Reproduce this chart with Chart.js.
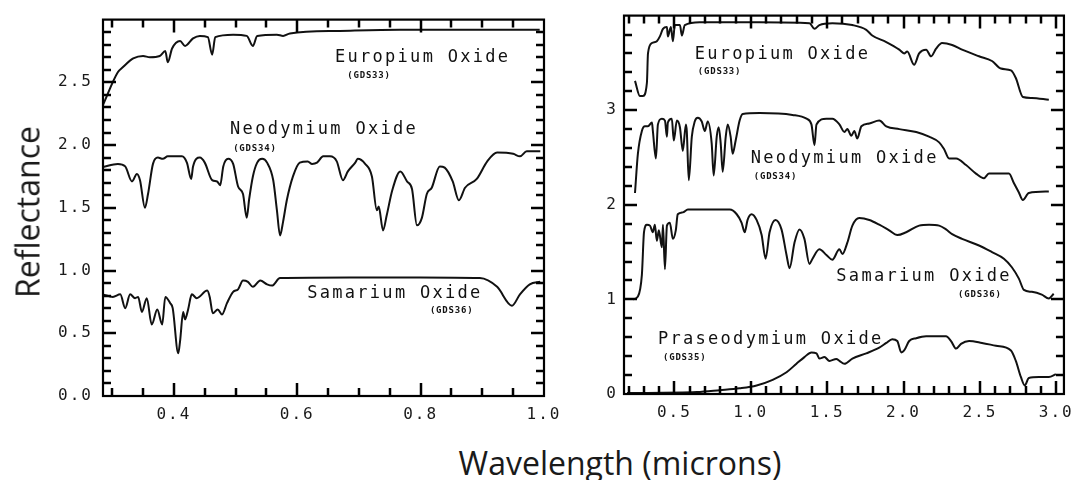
<!DOCTYPE html>
<html>
<head>
<meta charset="utf-8">
<script src="https://cdn.jsdelivr.net/npm/chart.js@4.4.1/dist/chart.umd.min.js"></script>
<style>
  html,body{margin:0;padding:0;background:#fff;}
  #page{position:relative;width:1080px;height:480px;overflow:hidden;background:#fff;}
  .cv{position:absolute;top:0;}
  .title{position:absolute;font-family:'Open Sans',sans-serif;font-size:32px;color:#1a1a1a;white-space:nowrap;}
</style>
</head>
<body>
<div id="page">
  <canvas id="left" class="cv" style="left:0px" width="570" height="440"></canvas>
  <canvas id="right" class="cv" style="left:580px" width="500" height="440"></canvas>
  <div class="title" style="left:27px;top:212px;transform:translate(-50%,-50%) rotate(-90deg);">Reflectance</div>
  <div class="title" style="left:620px;top:462px;transform:translate(-50%,-50%);">Wavelength (microns)</div>
</div>
<script>
// ---------------- DATA: left panel (0.3–1.0 µm) ----------------
const euLeftW = [0.285,0.309,0.317,0.334,0.350,0.361,0.377,0.386,0.390,0.397,0.410,0.418,0.431,0.442,0.455,0.462,0.467,0.496,0.518,0.528,0.535,0.567,0.577,0.588,0.669,0.766,0.993];
const euLeftR = [2.32,2.58,2.62,2.69,2.71,2.70,2.71,2.75,2.66,2.77,2.83,2.79,2.85,2.87,2.86,2.72,2.86,2.88,2.87,2.79,2.87,2.88,2.87,2.89,2.91,2.92,2.92];

const ndLeftW = [0.285,0.309,0.321,0.332,0.340,0.345,0.353,0.358,0.366,0.374,0.382,0.390,0.413,0.421,0.428,0.431,0.442,0.450,0.462,0.470,0.475,0.480,0.488,0.496,0.504,0.512,0.518,0.522,0.528,0.535,0.543,0.551,0.561,0.567,0.572,0.577,0.583,0.593,0.604,0.617,0.624,0.632,0.642,0.653,0.664,0.674,0.682,0.694,0.698,0.710,0.721,0.729,0.732,0.739,0.745,0.754,0.767,0.778,0.786,0.794,0.802,0.810,0.818,0.831,0.839,0.852,0.862,0.872,0.891,0.908,0.924,0.950,0.961,0.972,0.994];
const ndLeftR = [1.825,1.85,1.83,1.71,1.77,1.72,1.50,1.61,1.85,1.90,1.89,1.91,1.91,1.86,1.73,1.83,1.90,1.86,1.72,1.71,1.68,1.83,1.89,1.85,1.67,1.61,1.42,1.57,1.75,1.86,1.89,1.86,1.72,1.48,1.28,1.39,1.56,1.75,1.86,1.87,1.85,1.86,1.91,1.91,1.87,1.72,1.79,1.86,1.89,1.85,1.75,1.48,1.51,1.32,1.44,1.64,1.79,1.71,1.65,1.36,1.42,1.61,1.66,1.83,1.82,1.71,1.56,1.66,1.73,1.87,1.94,1.93,1.91,1.95,1.95];

const smLeftW = [0.285,0.301,0.313,0.321,0.329,0.337,0.342,0.348,0.356,0.364,0.373,0.381,0.386,0.394,0.398,0.407,0.410,0.415,0.418,0.423,0.429,0.437,0.454,0.458,0.463,0.471,0.478,0.486,0.496,0.504,0.512,0.520,0.528,0.540,0.551,0.559,0.572,0.685,0.799,0.896,0.924,0.948,0.961,0.977,0.994];
const smLeftR = [0.81,0.79,0.81,0.70,0.81,0.78,0.79,0.67,0.78,0.57,0.69,0.57,0.79,0.74,0.70,0.34,0.44,0.67,0.61,0.69,0.81,0.78,0.84,0.79,0.66,0.69,0.65,0.74,0.83,0.85,0.92,0.91,0.87,0.92,0.89,0.88,0.94,0.945,0.945,0.94,0.87,0.72,0.81,0.89,0.91];

// ---------------- DATA: right panel (0.2–3.0 µm) ----------------
const euRightW = [0.242,0.274,0.294,0.320,0.327,0.353,0.385,0.405,0.425,0.451,0.457,0.477,0.490,0.503,0.536,0.549,0.568,0.666,1.058,1.384,1.417,1.449,1.534,1.665,1.756,1.795,1.887,1.972,2.004,2.024,2.069,2.102,2.148,2.180,2.213,2.252,2.318,2.383,2.494,2.579,2.637,2.703,2.735,2.781,2.840,2.951];
const euRightR = [3.31,3.15,3.15,3.29,3.60,3.71,3.73,3.78,3.86,3.88,3.78,3.88,3.73,3.90,3.90,3.79,3.90,3.93,3.93,3.92,3.86,3.90,3.92,3.90,3.85,3.79,3.72,3.64,3.60,3.62,3.48,3.60,3.64,3.57,3.65,3.71,3.69,3.64,3.57,3.52,3.44,3.42,3.34,3.14,3.13,3.11];

const ndRightW = [0.242,0.261,0.287,0.307,0.327,0.353,0.359,0.379,0.392,0.418,0.438,0.451,0.457,0.483,0.496,0.516,0.536,0.555,0.575,0.581,0.594,0.614,0.633,0.653,0.679,0.699,0.718,0.744,0.757,0.777,0.790,0.803,0.816,0.836,0.849,0.868,0.881,0.901,0.927,0.947,1.058,1.273,1.365,1.397,1.417,1.430,1.495,1.534,1.580,1.613,1.632,1.658,1.678,1.697,1.724,1.776,1.841,1.887,1.972,2.083,2.167,2.233,2.265,2.298,2.344,2.409,2.474,2.526,2.559,2.690,2.722,2.755,2.781,2.820,2.951];
const ndRightR = [2.125,2.54,2.78,2.83,2.83,2.87,2.78,2.49,2.85,2.91,2.89,2.72,2.87,2.91,2.68,2.89,2.82,2.57,2.85,2.78,2.26,2.72,2.88,2.92,2.88,2.78,2.88,2.65,2.31,2.72,2.82,2.65,2.35,2.72,2.85,2.72,2.54,2.68,2.89,2.96,2.97,2.95,2.91,2.85,2.63,2.85,2.91,2.91,2.85,2.77,2.80,2.73,2.78,2.70,2.83,2.86,2.89,2.83,2.80,2.77,2.72,2.66,2.59,2.49,2.49,2.42,2.33,2.28,2.33,2.33,2.23,2.13,2.05,2.125,2.14];

const smRightW = [0.229,0.261,0.287,0.301,0.320,0.340,0.359,0.372,0.385,0.398,0.418,0.425,0.438,0.451,0.470,0.490,0.509,0.522,0.555,0.588,0.751,0.862,0.908,0.940,0.960,0.979,1.005,1.038,1.071,1.097,1.123,1.162,1.201,1.234,1.254,1.286,1.319,1.351,1.384,1.404,1.449,1.495,1.534,1.580,1.600,1.632,1.665,1.710,1.776,1.841,1.906,1.959,2.017,2.102,2.167,2.233,2.278,2.318,2.383,2.494,2.579,2.657,2.709,2.755,2.788,2.840,2.905,2.951,2.983];
const smRightR = [1.00,1.03,1.26,1.71,1.79,1.78,1.71,1.79,1.62,1.73,1.55,1.79,1.32,1.78,1.81,1.64,1.73,1.90,1.92,1.95,1.95,1.95,1.90,1.81,1.71,1.84,1.90,1.84,1.68,1.43,1.71,1.84,1.74,1.47,1.33,1.60,1.74,1.64,1.375,1.43,1.53,1.47,1.42,1.53,1.48,1.60,1.78,1.86,1.84,1.79,1.73,1.68,1.71,1.78,1.79,1.78,1.74,1.69,1.64,1.57,1.50,1.43,1.34,1.22,1.10,1.08,1.05,1.01,1.06];

const prRightW = [0.190,0.647,0.797,0.927,1.038,1.143,1.234,1.299,1.351,1.397,1.430,1.449,1.482,1.515,1.560,1.580,1.613,1.665,1.756,1.841,1.887,1.926,1.959,1.985,2.004,2.037,2.083,2.148,2.278,2.311,2.344,2.376,2.429,2.513,2.605,2.703,2.735,2.768,2.794,2.820,2.886,2.951,2.997];
const prRightR = [0.01,0.02,0.04,0.06,0.09,0.15,0.23,0.32,0.39,0.44,0.43,0.375,0.39,0.35,0.37,0.35,0.32,0.375,0.43,0.49,0.54,0.58,0.56,0.44,0.46,0.56,0.59,0.61,0.61,0.56,0.48,0.53,0.56,0.54,0.51,0.46,0.35,0.18,0.09,0.17,0.18,0.18,0.21];

// ---------------- tick labels and tick marks ----------------
const leftXTicks = [0.4, 0.6, 0.8, 1.0];
const leftYTicks = [0.0, 0.5, 1.0, 1.5, 2.0, 2.5];
const rightXTicks = [0.5, 1.0, 1.5, 2.0, 2.5, 3.0];
const rightYTicks = [0, 1, 2, 3];
const leftXMarks = [0.3,0.35,0.4,0.45,0.5,0.55,0.6,0.65,0.7,0.75,0.8,0.85,0.9,0.95];
const leftYMarks = [0.1,0.2,0.3,0.4,0.5,0.6,0.7,0.8,0.9,1.0,1.1,1.2,1.3,1.4,1.5,1.6,1.7,1.8,1.9,2.0,2.1,2.2,2.3,2.4,2.5,2.6,2.7,2.8,2.9];
const rightXMarks = [0.2,0.3,0.4,0.5,0.6,0.7,0.8,0.9,1.0,1.1,1.2,1.3,1.4,1.5,1.6,1.7,1.8,1.9,2.0,2.1,2.2,2.3,2.4,2.5,2.6,2.7,2.8,2.9,3.0];
const rightYMarks = [0.2,0.4,0.6,0.8,1.0,1.2,1.4,1.6,1.8,2.0,2.2,2.4,2.6,2.8,3.0,3.2,3.4,3.6,3.8];

// ---------------- in-plot labels (text, wavelength, reflectance) ----------------
const leftLabels = [
  {t:'Europium Oxide', w:0.661, r:2.70, small:false},
  {t:'(GDS33)', w:0.681, r:2.55, small:true},
  {t:'Neodymium Oxide', w:0.491, r:2.12, small:false},
  {t:'(GDS34)', w:0.496, r:1.97, small:true},
  {t:'Samarium Oxide', w:0.616, r:0.815, small:false},
  {t:'(GDS36)', w:0.815, r:0.68, small:true}
];
const rightLabels = [
  {t:'Europium Oxide', w:0.633, r:3.59, small:false},
  {t:'(GDS33)', w:0.653, r:3.41, small:true},
  {t:'Neodymium Oxide', w:0.999, r:2.49, small:false},
  {t:'(GDS34)', w:1.019, r:2.30, small:true},
  {t:'Samarium Oxide', w:1.560, r:1.24, small:false},
  {t:'(GDS36)', w:2.357, r:1.05, small:true},
  {t:'Praseodymium Oxide', w:0.392, r:0.58, small:false},
  {t:'(GDS35)', w:0.425, r:0.385, small:true}
];

const pts = (w, r) => w.map((v, i) => ({x: v, y: r[i]}));
const INK = '#111';
const MONO = "'DejaVu Sans Mono', 'Liberation Mono', monospace";

function framePlugin(cfg) {
  return {
    id: 'frame' + cfg.name,
    beforeDraw(chart) { chart.ctx.letterSpacing = '2px'; },
    afterDraw(chart) {
      const ctx = chart.ctx;
      const a = chart.chartArea;
      const xs = chart.scales.x, ys = chart.scales.y;
      ctx.save();
      ctx.letterSpacing = '0px';
      ctx.strokeStyle = '#000';
      ctx.lineWidth = 2.5;
      ctx.beginPath();
      for (const v of cfg.xMarks) {
        const px = Math.round(xs.getPixelForValue(v));
        const major = Math.abs(v / cfg.xMajorStep - Math.round(v / cfg.xMajorStep)) < 1e-6;
        const len = major ? 13 : 8;
        ctx.moveTo(px, a.bottom); ctx.lineTo(px, a.bottom - len);
        ctx.moveTo(px, a.top); ctx.lineTo(px, a.top + len);
      }
      for (const v of cfg.yMarks) {
        const py = Math.round(ys.getPixelForValue(v));
        const major = Math.abs(v / cfg.yMajorStep - Math.round(v / cfg.yMajorStep)) < 1e-6;
        const len = major ? 13 : 8;
        ctx.moveTo(a.left, py); ctx.lineTo(a.left + len, py);
        ctx.moveTo(a.right, py); ctx.lineTo(a.right - len, py);
      }
      ctx.stroke();
      ctx.lineWidth = 2.2;
      ctx.strokeRect(a.left, a.top, a.right - a.left, a.bottom - a.top);
      ctx.fillStyle = INK;
      ctx.textBaseline = 'middle';
      ctx.textAlign = 'left';
      for (const l of cfg.labels) {
        if (l.small) { ctx.font = 'bold 9px ' + MONO; ctx.letterSpacing = '0.8px'; }
        else { ctx.font = '17px ' + MONO; ctx.letterSpacing = '2.3px'; }
        ctx.fillText(l.t, xs.getPixelForValue(l.w), ys.getPixelForValue(l.r));
      }
      ctx.restore();
      ctx.letterSpacing = '0px';
    }
  };
}

function makeChart(id, cfg) {
  const ds = cfg.series.map(s => ({
    data: pts(s[0], s[1]),
    borderColor: INK,
    borderWidth: 2,
    pointRadius: 0,
    fill: false,
    cubicInterpolationMode: 'monotone'
  }));
  return new Chart(document.getElementById(id), {
    type: 'line',
    data: {datasets: ds},
    options: {
      responsive: false,
      animation: false,
      events: [],
      layout: {padding: cfg.padding},
      plugins: {
        legend: {display: false},
        tooltip: {enabled: false}
      },
      scales: {
        x: {
          type: 'linear', min: cfg.xmin, max: cfg.xmax,
          grid: {display: false, drawTicks: false},
          border: {display: false},
          afterBuildTicks: s => { s.ticks = cfg.xTicks.map(v => ({value: v})); },
          afterFit: s => { s.height = cfg.xAxisH; },
          ticks: {
            autoSkip: false, maxRotation: 0, padding: 9, color: '#1a1a1a',
            font: {family: MONO, size: 16},
            callback: v => Number(v).toFixed(1)
          }
        },
        y: {
          type: 'linear', min: cfg.ymin, max: cfg.ymax,
          grid: {display: false, drawTicks: false},
          border: {display: false},
          afterBuildTicks: s => { s.ticks = cfg.yTicks.map(v => ({value: v})); },
          afterFit: s => { s.width = cfg.yAxisW; },
          ticks: {
            autoSkip: false, padding: cfg.yPad, color: '#1a1a1a',
            font: {family: MONO, size: 16},
            callback: cfg.yFmt
          }
        }
      }
    },
    plugins: [framePlugin(cfg)]
  });
}

makeChart('left', {
  name: 'left',
  series: [[euLeftW, euLeftR], [ndLeftW, ndLeftR], [smLeftW, smLeftR]],
  xmin: 0.285, xmax: 1.0, ymin: 0, ymax: 3.0,
  xTicks: leftXTicks, yTicks: leftYTicks,
  xMarks: leftXMarks, yMarks: leftYMarks,
  xMajorStep: 0.2, yMajorStep: 0.5,
  xAxisH: 44, yAxisW: 103, yPad: 10,
  yFmt: v => Number(v).toFixed(1),
  padding: {left: 0, right: 26, top: 13, bottom: 0},
  labels: leftLabels
});

makeChart('right', {
  name: 'right',
  series: [[euRightW, euRightR], [ndRightW, ndRightR], [smRightW, smRightR], [prRightW, prRightR]],
  xmin: 0.17, xmax: 3.05, ymin: 0, ymax: 4.0,
  xTicks: rightXTicks, yTicks: rightYTicks,
  xMarks: rightXMarks, yMarks: rightYMarks,
  xMajorStep: 0.5, yMajorStep: 1,
  xAxisH: 46, yAxisW: 44, yPad: 6,
  yFmt: v => String(Math.round(v)),
  padding: {left: 0, right: 14, top: 10, bottom: 0},
  labels: rightLabels
});
</script>
</body>
</html>
